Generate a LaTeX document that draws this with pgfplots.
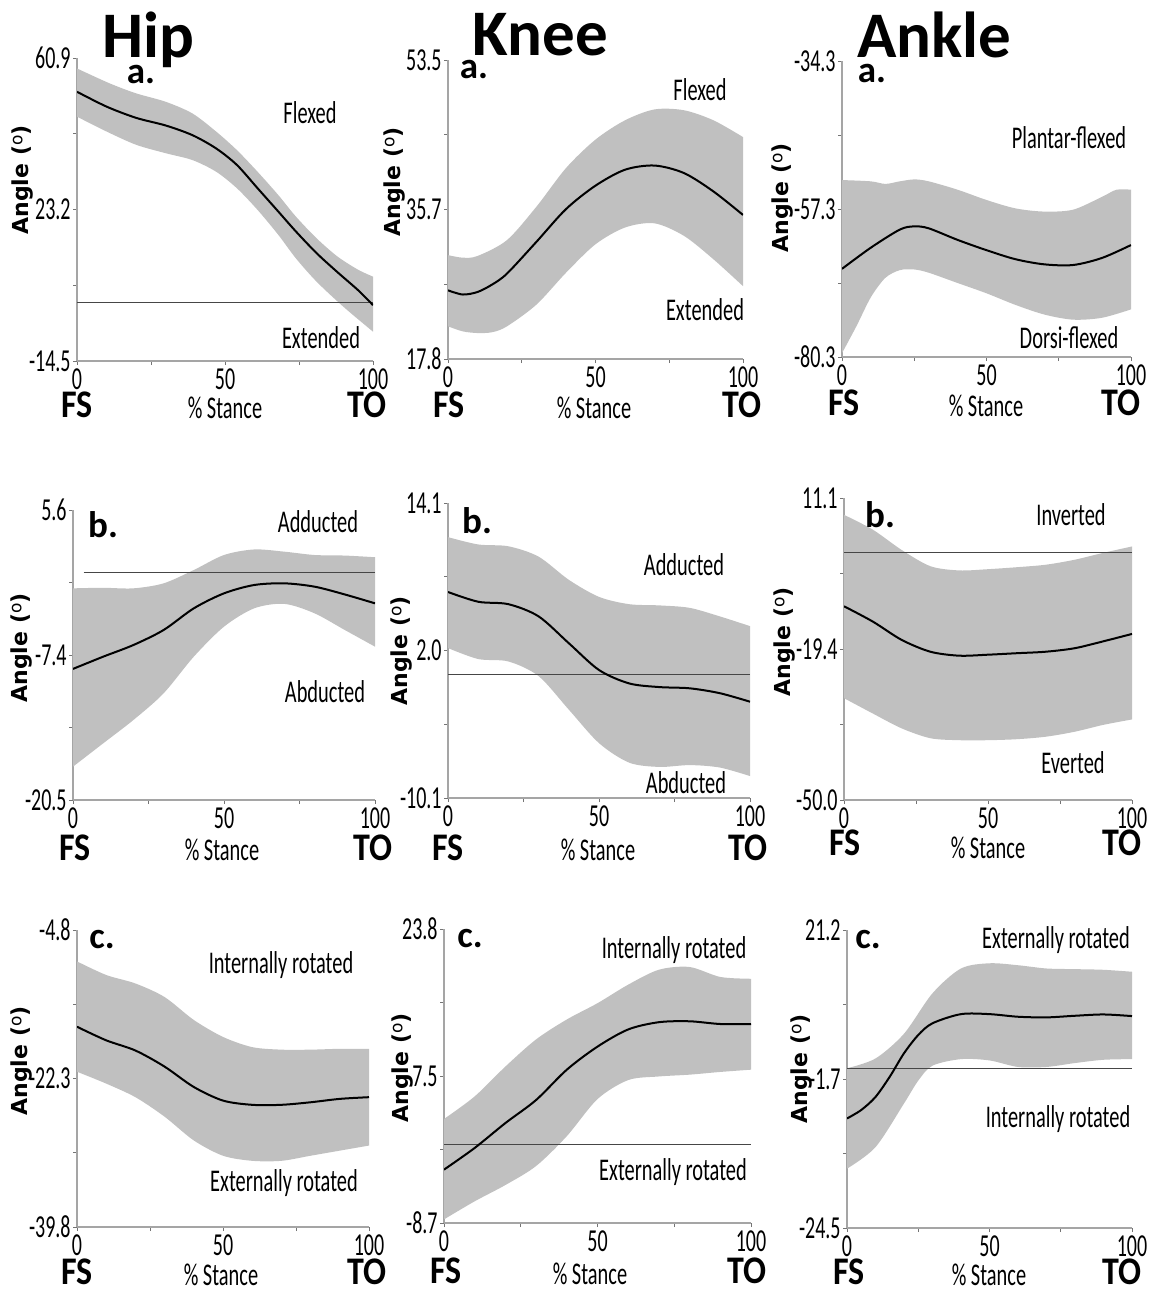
\documentclass[border=0pt]{standalone}
\usepackage{pgfplots}
\pgfplotsset{compat=1.18}
\usepgfplotslibrary{fillbetween}
\usepackage{graphicx}
\usepackage{fontspec}
\setmainfont{Carlito}
\newfontfamily\angfont{DejaVu Sans}
\definecolor{bandgray}{RGB}{192,192,192}
\definecolor{axgray}{RGB}{165,165,165}
\definecolor{zlgray}{RGB}{70,70,70}
\newcommand\sx[1]{\scalebox{1}[1.6]{#1}}
\newcommand\tx[1]{\scalebox{1}[1.55]{\fontsize{10.2}{12}\selectfont #1}}
\newcommand\bsx[1]{\scalebox{1}[1.15]{\fontsize{17}{20}\selectfont\bfseries #1}}
\tikzset{
  bandfill/.style={fill=bandgray, draw=none},
  meanline/.style={black, line width=1pt},
  zeroline/.style={zlgray, line width=0.55pt},
}
\pgfplotsset{panel/.style={
  scale only axis, anchor=south west,
  axis lines*=left, axis line style={axgray, line width=0.6pt},
  xmin=0, xmax=100,
  xtick={0,25,50,75,100}, xticklabels={\sx{0},,\sx{50},,\sx{100}},
  tick align=outside, major tick length=2pt,
  tick style={axgray!70!black, line width=0.5pt},
  ticklabel style={font=\fontsize{10}{12}\selectfont},
  yticklabel style={inner sep=1pt},
  xticklabel style={inner sep=1.5pt},
}}
\newcommand\lab[3]{\node[anchor=base, inner sep=0pt] at (#1*0.5pt,-#2*0.5pt) {#3};}
\newcommand\ang[2]{\node[rotate=90, anchor=center, inner sep=0pt] at (#1*0.5pt,-#2*0.5pt) {\angfont\bfseries\fontsize{11}{13}\selectfont Angle (\raisebox{0.55ex}{\fontsize{8.5}{9}\selectfont\mdseries o})};}
\newcommand\foot[5]{% FSx, stancex, TOx, baseline
  \lab{#1}{#4}{\bsx{FS}}\lab{#2}{#5}{\tx{\% Stance}}\lab{#3}{#4}{\bsx{TO}}}
\begin{document}
\begin{tikzpicture}

% ---------- Hip a ----------
\begin{axis}[panel, at={(38.5pt,-180.5pt)}, width=148pt, height=151.5pt,
  ymin=-14.5, ymax=60.9, ytick={-14.5,4.35,23.2,42.05,60.9},
  yticklabels={\sx{-14.5},,\sx{23.2},,\sx{60.9}}]
\addplot[name path=ha_u, draw=none, smooth] coordinates {(0,58.3)(11,54.6)(20,52.1)(30,50.0)(39,47.1)(47,42.6)(54,38.0)(61,32.6)(68,26.8)(74,21.4)(81,16.0)(88,11.5)(95,8.2)(100,6.5)};
\addplot[name path=ha_l, draw=none, smooth] coordinates {(0,46.3)(10,42.6)(20,39.3)(30,37.2)(39,35.5)(47,32.6)(54,28.5)(61,23.1)(68,16.9)(74,11.0)(81,5.2)(90,-1.0)(100,-7.2)};
\addplot[bandfill] fill between[of=ha_u and ha_l];
\addplot[zeroline] coordinates {(0,0)(100,0)};
\addplot[meanline, smooth] coordinates {(0,52.5)(10,48.8)(20,46.0)(30,44.1)(39,41.7)(47,38.4)(54,34.3)(61,28.5)(68,22.7)(74,17.7)(81,12.3)(88,7.6)(95,3.1)(100,-0.6)};
\end{axis}

% ---------- Knee a ----------
\begin{axis}[panel, at={(224pt,-179.5pt)}, width=147.5pt, height=149.5pt,
  ymin=17.8, ymax=53.5, ytick={17.8,26.725,35.65,44.575,53.5},
  yticklabels={\sx{17.8},,\sx{35.7},,\sx{53.5}}]
\addplot[name path=ka_u, draw=none, smooth] coordinates {(0,30.2)(5,29.9)(10,30.1)(20,32.0)(30,36.0)(40,40.6)(50,44.0)(60,46.3)(70,47.6)(80,47.5)(90,46.3)(100,44.3)};
\addplot[name path=ka_l, draw=none, smooth] coordinates {(0,21.7)(5,21.1)(10,20.9)(15,21.0)(20,21.7)(30,24.3)(40,28.1)(50,31.5)(60,33.5)(70,34.0)(80,32.5)(90,29.7)(100,26.5)};
\addplot[bandfill] fill between[of=ka_u and ka_l];
\addplot[meanline, smooth] coordinates {(0,26.0)(5,25.5)(10,25.8)(15,26.7)(20,28.0)(30,31.8)(40,35.7)(50,38.5)(60,40.4)(70,40.9)(80,40.0)(90,37.8)(100,35.0)};
\end{axis}

% ---------- Ankle a ----------
\begin{axis}[panel, at={(421pt,-178.5pt)}, width=144.5pt, height=148pt,
  ymin=-80.3, ymax=-34.3, ytick={-80.3,-68.8,-57.3,-45.8,-34.3},
  yticklabels={\sx{-80.3},,\sx{-57.3},,\sx{-34.3}}]
\addplot[name path=aa_u, draw=none, smooth] coordinates {(0,-52.8)(10,-53.0)(15,-53.4)(20,-53.0)(25,-52.7)(30,-53.0)(40,-54.3)(50,-55.9)(60,-57.2)(70,-57.7)(80,-57.4)(90,-55.4)(95,-54.3)(100,-54.3)};
\addplot[name path=aa_l, draw=none, smooth] coordinates {(0,-79.7)(5,-75.5)(10,-71.0)(15,-68.0)(20,-66.8)(25,-66.7)(30,-67.2)(40,-68.8)(50,-70.4)(60,-72.2)(70,-73.7)(80,-74.5)(90,-74.2)(100,-72.9)};
\addplot[bandfill] fill between[of=aa_u and aa_l];
\addplot[meanline, smooth] coordinates {(0,-66.6)(10,-63.3)(20,-60.5)(25,-60.0)(30,-60.3)(40,-62.1)(50,-63.7)(60,-65.1)(70,-65.9)(80,-66.0)(90,-64.9)(100,-62.9)};
\end{axis}

% ---------- Hip b ----------
\begin{axis}[panel, at={(36.5pt,-400pt)}, width=151pt, height=145pt,
  ymin=-20.5, ymax=5.6, ytick={-20.5,-13.975,-7.45,-0.925,5.6},
  yticklabels={\sx{-20.5},,\sx{-7.4},,\sx{5.6}}]
\addplot[name path=hb_u, draw=none, smooth] coordinates {(0,-1.45)(10,-1.4)(20,-1.45)(30,-1.0)(40,0.2)(50,1.55)(60,2.05)(70,1.85)(80,1.55)(90,1.5)(100,1.35)};
\addplot[name path=hb_l, draw=none, smooth] coordinates {(0,-17.5)(10,-15.4)(20,-13.3)(30,-10.9)(40,-7.6)(50,-4.9)(60,-3.25)(70,-2.85)(80,-3.7)(90,-5.2)(100,-6.7)};
\addplot[bandfill] fill between[of=hb_u and hb_l];
\addplot[zeroline] coordinates {(3.5,0)(100,0)};
\addplot[meanline, smooth] coordinates {(0,-8.7)(10,-7.6)(20,-6.55)(30,-5.2)(40,-3.25)(50,-1.9)(60,-1.15)(70,-1.0)(80,-1.3)(90,-2.0)(100,-2.8)};
\end{axis}

% ---------- Knee b ----------
\begin{axis}[panel, at={(224pt,-399pt)}, width=151pt, height=147.5pt,
  ymin=-10.1, ymax=14.1, ytick={-10.1,-4.05,2.0,8.05,14.1},
  yticklabels={\sx{-10.1},,\sx{2.0},,\sx{14.1}}]
\addplot[name path=kb_u, draw=none, smooth] coordinates {(0,11.3)(10,10.7)(20,10.55)(30,9.7)(40,7.8)(50,6.4)(60,5.8)(70,5.7)(80,5.5)(90,4.8)(100,4.0)};
\addplot[name path=kb_l, draw=none, smooth] coordinates {(0,2.2)(10,1.3)(20,1.1)(30,-0.1)(40,-2.85)(50,-5.6)(60,-7.2)(70,-7.55)(80,-7.4)(90,-7.6)(100,-8.3)};
\addplot[bandfill] fill between[of=kb_u and kb_l];
\addplot[zeroline] coordinates {(0,0)(100,0)};
\addplot[meanline, smooth] coordinates {(0,6.8)(10,6.0)(20,5.8)(30,4.8)(40,2.6)(50,0.4)(60,-0.7)(70,-1.0)(80,-1.1)(90,-1.5)(100,-2.2)};
\end{axis}

% ---------- Ankle b ----------
\begin{axis}[panel, at={(422pt,-400pt)}, width=144pt, height=151pt,
  ymin=-50, ymax=11.1, ytick={-50,-34.725,-19.45,-4.175,11.1},
  yticklabels={\sx{-50.0},,\sx{-19.4},,\sx{11.1}}]
\addplot[name path=ab_u, draw=none, smooth] coordinates {(0,7.7)(10,4.7)(20,0.6)(30,-2.7)(40,-3.55)(50,-3.3)(60,-2.9)(70,-2.4)(80,-1.4)(90,0.0)(100,1.3)};
\addplot[name path=ab_l, draw=none, smooth] coordinates {(0,-29.4)(10,-32.5)(20,-35.5)(30,-37.5)(40,-37.9)(50,-37.9)(60,-37.7)(70,-37.2)(80,-36.2)(90,-34.8)(100,-33.7)};
\addplot[bandfill] fill between[of=ab_u and ab_l];
\addplot[zeroline] coordinates {(0,0)(100,0)};
\addplot[meanline, smooth] coordinates {(0,-10.8)(10,-13.9)(20,-17.6)(30,-20.0)(40,-20.8)(50,-20.6)(60,-20.3)(70,-20.0)(80,-19.3)(90,-17.9)(100,-16.4)};
\end{axis}

% ---------- Hip c ----------
\begin{axis}[panel, at={(38.5pt,-613.5pt)}, width=146pt, height=148.5pt,
  ymin=-39.8, ymax=-4.8, ytick={-39.8,-31.05,-22.3,-13.55,-4.8},
  yticklabels={\sx{-39.8},,\sx{-22.3},,\sx{-4.8}}]
\addplot[name path=hc_u, draw=none, smooth] coordinates {(0,-8.5)(10,-10.1)(20,-11.1)(30,-12.7)(40,-15.4)(50,-17.4)(60,-18.6)(70,-18.9)(80,-18.9)(90,-18.8)(100,-18.8)};
\addplot[name path=hc_l, draw=none, smooth] coordinates {(0,-21.5)(10,-22.9)(20,-24.5)(30,-26.8)(40,-29.6)(50,-31.4)(60,-32.0)(70,-32.0)(80,-31.4)(90,-30.8)(100,-30.2)};
\addplot[bandfill] fill between[of=hc_u and hc_l];
\addplot[meanline, smooth] coordinates {(0,-16.2)(10,-17.8)(20,-19.0)(30,-20.9)(40,-23.3)(50,-24.9)(60,-25.4)(70,-25.4)(80,-25.1)(90,-24.7)(100,-24.5)};
\end{axis}

% ---------- Knee c ----------
\begin{axis}[panel, at={(222pt,-611.5pt)}, width=153.5pt, height=147pt,
  ymin=-8.7, ymax=23.8, ytick={-8.7,-0.575,7.55,15.675,23.8},
  yticklabels={\sx{-8.7},,\sx{7.5},,\sx{23.8}}]
\addplot[name path=kc_u, draw=none, smooth] coordinates {(0,2.8)(10,5.3)(20,8.6)(30,11.6)(40,13.8)(50,15.6)(60,17.65)(70,19.3)(80,19.6)(90,18.5)(100,18.3)};
\addplot[name path=kc_l, draw=none, smooth] coordinates {(0,-8.3)(10,-6.3)(20,-4.5)(30,-2.4)(40,0.9)(50,5.0)(60,7.1)(70,7.5)(80,7.7)(90,8.0)(100,8.25)};
\addplot[bandfill] fill between[of=kc_u and kc_l];
\addplot[zeroline] coordinates {(0,0)(100,0)};
\addplot[meanline, smooth] coordinates {(0,-2.8)(10,-0.4)(20,2.35)(30,4.9)(40,8.25)(50,10.8)(60,12.7)(70,13.5)(80,13.6)(90,13.3)(100,13.3)};
\end{axis}

% ---------- Ankle c ----------
\begin{axis}[panel, at={(423.5pt,-614pt)}, width=142.5pt, height=149pt,
  ymin=-24.5, ymax=21.2, ytick={-24.5,-13.075,-1.65,9.775,21.2},
  yticklabels={\sx{-24.5},,\sx{-1.7},,\sx{21.2}}]
\addplot[name path=ac_u, draw=none, smooth] coordinates {(0,0.0)(10,1.5)(20,5.3)(30,11.5)(40,15.3)(50,16.1)(60,15.8)(70,15.3)(80,15.2)(90,15.1)(100,14.8)};
\addplot[name path=ac_l, draw=none, smooth] coordinates {(0,-15.4)(10,-12.1)(20,-5.4)(25,-1.9)(30,0.4)(40,1.4)(50,1.2)(60,0.2)(70,0.2)(80,0.8)(90,1.3)(100,1.4)};
\addplot[bandfill] fill between[of=ac_u and ac_l];
\addplot[zeroline] coordinates {(0,0)(100,0)};
\addplot[meanline, smooth] coordinates {(0,-7.7)(5,-6.4)(10,-4.4)(15,-1.3)(20,2.3)(25,5.1)(30,6.9)(40,8.3)(50,8.3)(60,7.9)(70,7.8)(80,8.05)(90,8.25)(100,8.0)};
\end{axis}

% ---------- titles ----------
\lab{148}{57}{\fontsize{32.5}{36}\selectfont\bfseries Hip}
\lab{540.5}{55}{\fontsize{32.5}{36}\selectfont\bfseries Knee}
\lab{934.5}{57}{\fontsize{32.5}{36}\selectfont\bfseries Ankle}

% ---------- panel letters ----------
\newcommand\pl[3]{\lab{#1}{#2}{\fontsize{18.5}{20}\selectfont\bfseries #3}}
\pl{141}{83}{a.}\pl{474}{78}{a.}\pl{872}{82}{a.}
\pl{103}{537}{b.}\pl{477}{533}{b.}\pl{880}{527}{b.}
\pl{102}{948}{c.}\pl{470}{947}{c.}\pl{868}{948}{c.}

% ---------- annotations ----------
\lab{310}{123}{\tx{Flexed}}
\lab{321}{348}{\tx{Extended}}
\lab{700}{100}{\tx{Flexed}}
\lab{705}{320}{\tx{Extended}}
\lab{1069}{148}{\tx{Plantar-flexed}}
\lab{1069}{348}{\tx{Dorsi-flexed}}
\lab{318}{532}{\tx{Adducted}}
\lab{325}{702}{\tx{Abducted}}
\lab{684}{575}{\tx{Adducted}}
\lab{686}{793}{\tx{Abducted}}
\lab{1071}{525}{\tx{Inverted}}
\lab{1073}{773}{\tx{Everted}}
\lab{281}{973}{\tx{Internally rotated}}
\lab{284}{1191}{\tx{Externally rotated}}
\lab{674}{958}{\tx{Internally rotated}}
\lab{673}{1180}{\tx{Externally rotated}}
\lab{1056}{948}{\tx{Externally rotated}}
\lab{1058}{1127}{\tx{Internally rotated}}

% ---------- y labels ----------
\ang{23}{180}\ang{395}{182}\ang{783}{198}
\ang{22}{648}\ang{402}{651}\ang{785}{642}
\ang{22}{1061}\ang{403}{1068}\ang{802}{1069}

% ---------- FS / % Stance / TO ----------
\foot{77}{225}{367}{417}{418}
\foot{449}{594}{742}{417}{418}
\foot{844}{986}{1121}{415}{416}
\foot{75}{222}{373}{860}{860}
\foot{448}{598}{748}{860}{860}
\foot{845}{988}{1122}{855}{858}
\foot{77}{221}{367}{1284}{1285}
\foot{446}{590}{747}{1283}{1284}
\foot{849}{989}{1122}{1284}{1285}

\pgfresetboundingbox
\useasboundingbox (0,0) rectangle (574.5pt,-645.5pt);
\end{tikzpicture}
\end{document}
